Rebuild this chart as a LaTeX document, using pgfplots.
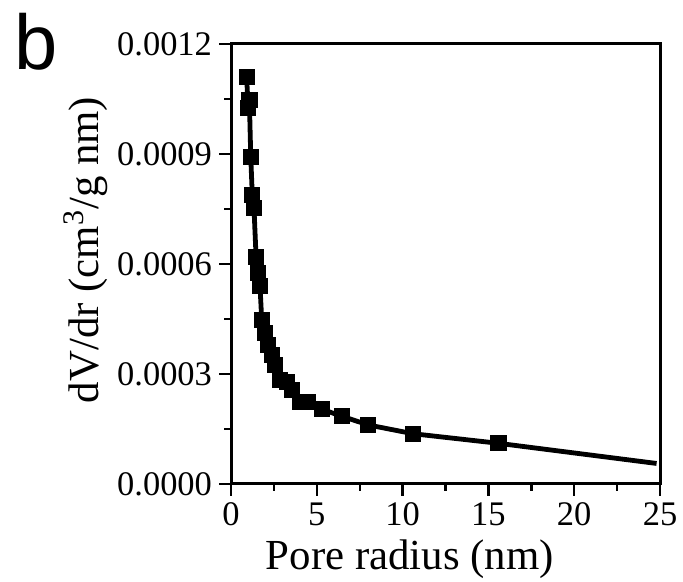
\documentclass[border=0pt]{standalone}
\usepackage{pgfplots}
\pgfplotsset{compat=1.18}
\usepackage{fontspec}
\setmainfont{Liberation Serif}
\newfontfamily\panelfont{Liberation Sans}

% pore size distribution (BJH)
\pgfplotstableread{
r      dvdr
0.91   0.001111
1.00   0.001025
1.07   0.001047
1.15   0.000893
1.24   0.000788
1.34   0.000752
1.46   0.000620
1.55   0.000575
1.69   0.000540
1.79   0.000447
1.98   0.000411
2.17   0.000379
2.37   0.000352
2.56   0.000325
2.86   0.000284
3.24   0.000279
3.54   0.000256
4.02   0.000224
4.50   0.000224
5.28   0.000204
6.45   0.000185
8.00   0.000161
10.62  0.000137
15.58  0.000111
}\marked
\pgfplotstableread{
r      dvdr
15.58  0.000111
24.80  0.000056
}\tail

\begin{document}
\begin{tikzpicture}
\begin{axis}[
    scale only axis,
    width=214.5bp, height=220bp,
    xmin=0, xmax=25, ymin=0, ymax=0.0012,
    xtick={0,5,...,25},
    ytick={0,0.0003,0.0006,0.0009,0.0012},
    minor x tick num=1, minor y tick num=1,
    tick align=outside,
    xtick pos=left, ytick pos=left,
    scaled y ticks=false,
    yticklabel style={/pgf/number format/.cd, fixed, fixed zerofill, precision=4},
    /pgf/number format/assume math mode=true,
    axis line style={line width=1.5bp},
    major tick style={line width=1.2bp, black},
    minor tick style={line width=1.2bp, black},
    major tick length=6bp, minor tick length=3.5bp,
    tick label style={font=\fontsize{17.3}{19}\selectfont},
    label style={font=\fontsize{21.5}{25}\selectfont},
    xlabel={Pore radius (nm)},
    ylabel={dV/dr (cm\textsuperscript{3}/g nm)},
    xlabel style={at={(ticklabel cs:0.417)}},
    ylabel style={at={(ticklabel cs:0.532)}, yshift=-2bp},
    clip=false,
]
\addplot[black, line width=2.4bp, no marks] table[x=r, y=dvdr] {\marked};
\addplot[black, line width=2.4bp, no marks] table[x=r, y=dvdr] {\tail};
\addplot[black, only marks, mark=square*, mark size=3.8bp] table[x=r, y=dvdr] {\marked};
\node[anchor=north west, inner sep=0pt, font=\panelfont\fontsize{39}{39}\selectfont]
    at (rel axis cs:-0.505,1.072) {b};
\coordinate (bl) at (rel axis cs:-0.5385,-0.2227);
\coordinate (tr) at (rel axis cs:1.0536,1.1);
\end{axis}
\pgfresetboundingbox
\useasboundingbox (bl) rectangle (tr);
\end{tikzpicture}
\end{document}
